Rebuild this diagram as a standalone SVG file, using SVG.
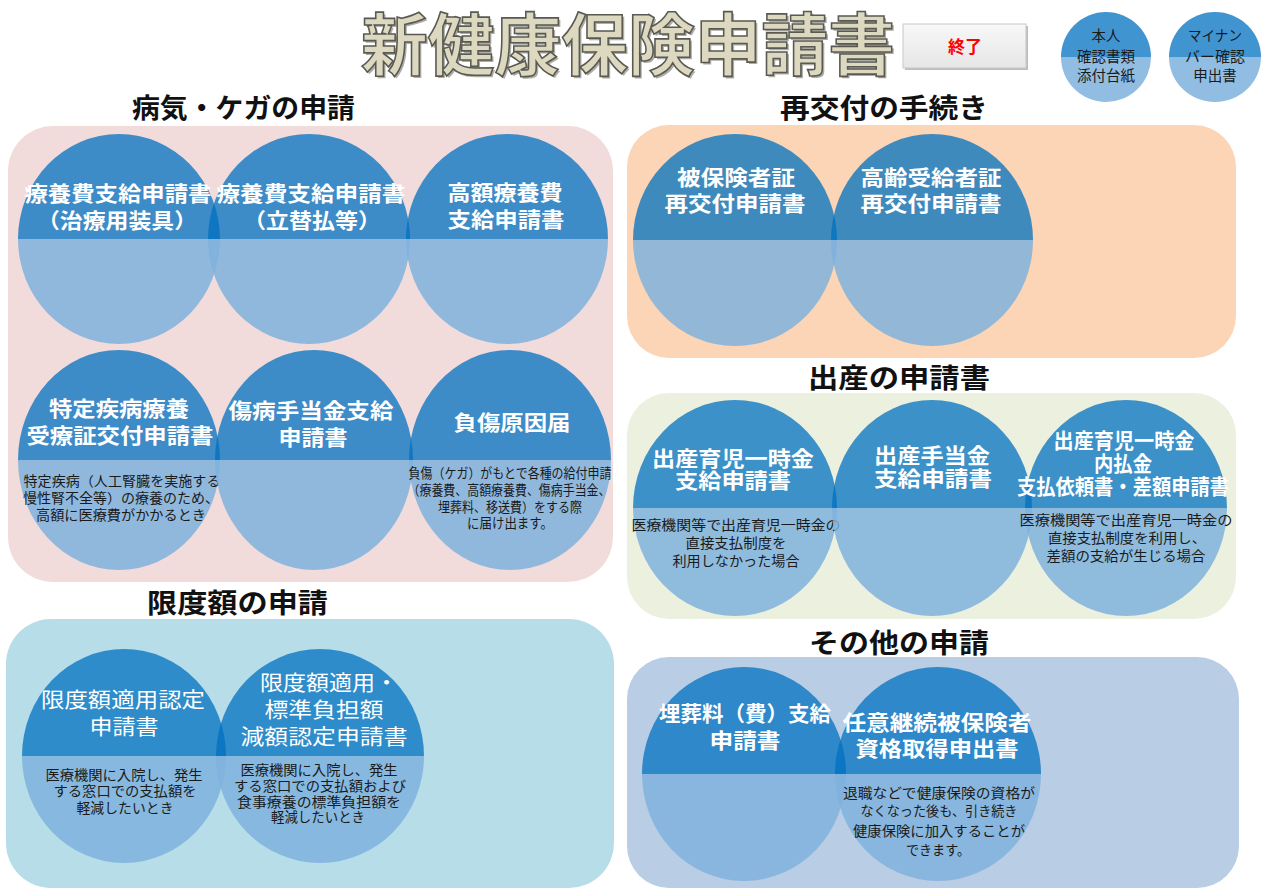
<svg xmlns="http://www.w3.org/2000/svg" width="1267" height="895" viewBox="0 0 1267 895">
<defs>
<linearGradient id="btn" x1="0" y1="0" x2="0" y2="1">
<stop offset="0" stop-color="#f8f8f8"/><stop offset="1" stop-color="#e6e6e6"/>
</linearGradient>
<style>
text{font-family:"Noto Sans CJK JP","Noto Sans CJK SC",sans-serif;text-anchor:middle}
.top{fill:#0070c0;fill-opacity:0.75}
.bot{fill:#7fb2dd;fill-opacity:0.85}
.t{fill:#fff;font-weight:700;font-size:21px}
.tr{fill:#fff;font-weight:400;font-size:21px}
.d{fill:#1a1a1a;font-size:13.5px}
.h{fill:#111;font-weight:700;font-size:27px}
.s{fill:#1a1a1a;font-size:14.5px}
</style>
</defs>
<rect width="1267" height="895" fill="#fff"/>

<g id="title">
<text x="630" y="72" font-size="68" font-weight="700" textLength="534" lengthAdjust="spacingAndGlyphs" fill="#6b6b60" opacity="0.55">新健康保険申請書</text>
<text x="628" y="70" font-size="68" font-weight="700" textLength="534" lengthAdjust="spacingAndGlyphs" fill="#ddd8c0" stroke="#5a5a52" stroke-width="1.6">新健康保険申請書</text>
</g>

<g id="btn-end">
<rect x="905" y="26" width="123" height="44" fill="#bdbdbd"/>
<rect x="903" y="24" width="123" height="44" fill="url(#btn)" stroke="#c8c8c8"/>
<text x="965" y="53" font-size="17" font-weight="700" fill="#ff0000">終了</text>
</g>

<g id="btn-honnin">
<path class="bot" d="M1061 57 A45 45 0 0 0 1151 57 Z"/>
<path class="top" d="M1061 57 A45 45 0 0 1 1151 57 Z"/>
<text class="s" x="1106" y="41">本人</text>
<text class="s" x="1106" y="62">確認書類</text>
<text class="s" x="1106" y="81">添付台紙</text>
</g>
<g id="btn-mynumber">
<path class="bot" d="M1169 57 A46 45 0 0 0 1261 57 Z"/>
<path class="top" d="M1169 57 A46 45 0 0 1 1261 57 Z"/>
<text class="s" x="1215" y="41" textLength="54" lengthAdjust="spacingAndGlyphs">マイナン</text>
<text class="s" x="1215" y="62" textLength="60" lengthAdjust="spacingAndGlyphs">バー確認</text>
<text class="s" x="1215" y="81">申出書</text>
</g>

<!-- panels -->
<g id="panel-byoki">
<rect x="8" y="126" width="605" height="456" rx="45" fill="#f2dcdb"/>
<text class="h" x="243.5" y="118" textLength="223" lengthAdjust="spacingAndGlyphs">病気・ケガの申請</text>
</g>
<g id="panel-gendo">
<rect x="6" y="619" width="608" height="269" rx="45" fill="#b7dde8"/>
<text class="h" x="237.5" y="613" textLength="181" lengthAdjust="spacingAndGlyphs">限度額の申請</text>
</g>
<g id="panel-saikofu">
<rect x="627" y="125" width="609" height="233" rx="42" fill="#fbd5b5"/>
<text class="h" x="884" y="118" textLength="208" lengthAdjust="spacingAndGlyphs">再交付の手続き</text>
</g>
<g id="panel-shussan">
<rect x="627" y="393" width="609" height="226" rx="42" fill="#ebf1de"/>
<text class="h" x="899" y="388" textLength="182" lengthAdjust="spacingAndGlyphs">出産の申請書</text>
</g>
<g id="panel-sonota">
<rect x="627" y="657" width="612" height="231" rx="42" fill="#b9cde5"/>
<text class="h" x="899" y="653" textLength="180" lengthAdjust="spacingAndGlyphs">その他の申請</text>
</g>

<g id="connectors"></g>

<!-- row 1 -->
<g id="n-ryoyohi-sogu">
<path class="bot" d="M18 239 A101 105 0 0 0 220 239 Z"/>
<path class="top" d="M18 239 A101 105 0 0 1 220 239 Z"/>
<text class="t" x="118" y="201" textLength="187" lengthAdjust="spacingAndGlyphs">療養費支給申請書</text>
<text class="t" x="117" y="228" textLength="160" lengthAdjust="spacingAndGlyphs">（治療用装具）</text>
</g>
<g id="n-ryoyohi-tatekae">
<path class="bot" d="M208 239 A101 105 0 0 0 410 239 Z"/>
<path class="top" d="M208 239 A101 105 0 0 1 410 239 Z"/>
<text class="t" x="311" y="201" textLength="189" lengthAdjust="spacingAndGlyphs">療養費支給申請書</text>
<text class="t" x="312" y="228" textLength="138" lengthAdjust="spacingAndGlyphs">（立替払等）</text>
</g>
<g id="n-kogaku">
<path class="bot" d="M406 239 A101 105 0 0 0 608 239 Z"/>
<path class="top" d="M406 239 A101 105 0 0 1 608 239 Z"/>
<text class="t" x="505" y="200" textLength="115" lengthAdjust="spacingAndGlyphs">高額療養費</text>
<text class="t" x="506" y="227" textLength="117" lengthAdjust="spacingAndGlyphs">支給申請書</text>
</g>

<!-- row 2 -->
<g id="n-tokutei">
<path class="bot" d="M18 460 A101 110 0 0 0 220 460 Z"/>
<path class="top" d="M18 460 A101 110 0 0 1 220 460 Z"/>
<text class="t" x="119" y="416" textLength="140" lengthAdjust="spacingAndGlyphs">特定疾病療養</text>
<text class="t" x="120" y="443" textLength="187" lengthAdjust="spacingAndGlyphs">受療証交付申請書</text>
<text class="d" x="122" y="486" font-size="14" textLength="197" lengthAdjust="spacingAndGlyphs">特定疾病（人工腎臓を実施する</text>
<text class="d" x="121" y="503" font-size="14" textLength="196" lengthAdjust="spacingAndGlyphs">慢性腎不全等）の療養のため、</text>
<text class="d" x="121" y="520" font-size="14" textLength="170" lengthAdjust="spacingAndGlyphs">高額に医療費がかかるとき</text>
</g>
<g id="n-shobyo">
<path class="bot" d="M215 460 A99 110 0 0 0 413 460 Z"/>
<path class="top" d="M215 460 A99 110 0 0 1 413 460 Z"/>
<text class="t" x="311" y="418" textLength="165" lengthAdjust="spacingAndGlyphs">傷病手当金支給</text>
<text class="t" x="313" y="445" textLength="69" lengthAdjust="spacingAndGlyphs">申請書</text>
</g>
<g id="n-fusho">
<path class="bot" d="M409 460 A101 110 0 0 0 611 460 Z"/>
<path class="top" d="M409 460 A101 110 0 0 1 611 460 Z"/>
<text class="t" x="512" y="430" textLength="117" lengthAdjust="spacingAndGlyphs">負傷原因届</text>
<text class="d" x="510" y="478" font-size="12.5" textLength="203" lengthAdjust="spacingAndGlyphs">負傷（ケガ）がもとで各種の給付申請</text>
<text class="d" x="509" y="495" font-size="12.5" textLength="203" lengthAdjust="spacingAndGlyphs">（療養費、高額療養費、傷病手当金、</text>
<text class="d" x="510" y="512" font-size="12.5" textLength="144" lengthAdjust="spacingAndGlyphs">埋葬料、移送費）をする際</text>
<text class="d" x="510" y="528" font-size="12.5" textLength="86" lengthAdjust="spacingAndGlyphs">に届け出ます。</text>
</g>

<!-- 限度額 -->
<g id="n-gendo-nintei">
<path class="bot" d="M22 756 A102 107 0 0 0 226 756 Z"/>
<path class="top" d="M22 756 A102 107 0 0 1 226 756 Z"/>
<text class="tr" x="123" y="707" textLength="164" lengthAdjust="spacingAndGlyphs">限度額適用認定</text>
<text class="tr" x="124" y="734" textLength="69" lengthAdjust="spacingAndGlyphs">申請書</text>
<text class="d" x="124" y="780" font-size="14" textLength="157" lengthAdjust="spacingAndGlyphs">医療機関に入院し、発生</text>
<text class="d" x="125" y="796" font-size="14" textLength="143" lengthAdjust="spacingAndGlyphs">する窓口での支払額を</text>
<text class="d" x="125" y="813" font-size="14" textLength="97" lengthAdjust="spacingAndGlyphs">軽減したいとき</text>
</g>
<g id="n-gendo-genmen">
<path class="bot" d="M216 756 A104 107 0 0 0 424 756 Z"/>
<path class="top" d="M216 756 A104 107 0 0 1 424 756 Z"/>
<text class="tr" x="329" y="690" textLength="138" lengthAdjust="spacingAndGlyphs">限度額適用・</text>
<text class="tr" x="324" y="717" textLength="119" lengthAdjust="spacingAndGlyphs">標準負担額</text>
<text class="tr" x="324" y="744" textLength="167" lengthAdjust="spacingAndGlyphs">減額認定申請書</text>
<text class="d" x="319" y="775" font-size="14" textLength="157" lengthAdjust="spacingAndGlyphs">医療機関に入院し、発生</text>
<text class="d" x="320" y="791" font-size="14" textLength="172" lengthAdjust="spacingAndGlyphs">する窓口での支払額および</text>
<text class="d" x="319" y="807" font-size="14" textLength="164" lengthAdjust="spacingAndGlyphs">食事療養の標準負担額を</text>
<text class="d" x="318" y="822" font-size="14" textLength="94" lengthAdjust="spacingAndGlyphs">軽減したいとき</text>
</g>

<!-- 再交付 -->
<g id="n-hihokensha">
<path class="bot" d="M633 240 A102 106 0 0 0 837 240 Z"/>
<path class="top" d="M633 240 A102 106 0 0 1 837 240 Z"/>
<text class="t" x="736" y="185" textLength="118" lengthAdjust="spacingAndGlyphs">被保険者証</text>
<text class="t" x="735" y="211" textLength="141" lengthAdjust="spacingAndGlyphs">再交付申請書</text>
</g>
<g id="n-koreisha">
<path class="bot" d="M831 240 A101 106 0 0 0 1033 240 Z"/>
<path class="top" d="M831 240 A101 106 0 0 1 1033 240 Z"/>
<text class="t" x="931" y="185" textLength="141" lengthAdjust="spacingAndGlyphs">高齢受給者証</text>
<text class="t" x="931" y="211" textLength="141" lengthAdjust="spacingAndGlyphs">再交付申請書</text>
</g>

<!-- 出産 -->
<g id="n-ikuji">
<path class="bot" d="M633 508 A102 108 0 0 0 837 508 Z"/>
<path class="top" d="M633 508 A102 108 0 0 1 837 508 Z"/>
<text class="t" x="733" y="466" textLength="162" lengthAdjust="spacingAndGlyphs">出産育児一時金</text>
<text class="t" x="733" y="488" textLength="116" lengthAdjust="spacingAndGlyphs">支給申請書</text>
<text class="d" x="736" y="530" font-size="14" textLength="209" lengthAdjust="spacingAndGlyphs">医療機関等で出産育児一時金の</text>
<text class="d" x="736" y="548" font-size="14" textLength="101" lengthAdjust="spacingAndGlyphs">直接支払制度を</text>
<text class="d" x="736" y="566" font-size="14" textLength="127" lengthAdjust="spacingAndGlyphs">利用しなかった場合</text>
</g>
<g id="n-teate">
<path class="bot" d="M832 508 A100 108 0 0 0 1032 508 Z"/>
<path class="top" d="M832 508 A100 108 0 0 1 1032 508 Z"/>
<text class="t" x="932" y="463" textLength="116" lengthAdjust="spacingAndGlyphs">出産手当金</text>
<text class="t" x="933" y="486" textLength="118" lengthAdjust="spacingAndGlyphs">支給申請書</text>
</g>
<g id="n-uchibarai">
<path class="bot" d="M1025 508 A101 108 0 0 0 1227 508 Z"/>
<path class="top" d="M1025 508 A101 108 0 0 1 1227 508 Z"/>
<text class="t" x="1124" y="448" font-size="19" textLength="141" lengthAdjust="spacingAndGlyphs">出産育児一時金</text>
<text class="t" x="1123" y="471" font-size="19" textLength="58" lengthAdjust="spacingAndGlyphs">内払金</text>
<text class="t" x="1123" y="494" font-size="19" textLength="212" lengthAdjust="spacingAndGlyphs">支払依頼書・差額申請書</text>
<text class="d" x="1126" y="525" font-size="14" textLength="213" lengthAdjust="spacingAndGlyphs">医療機関等で出産育児一時金の</text>
<text class="d" x="1127" y="543" font-size="14" textLength="158" lengthAdjust="spacingAndGlyphs">直接支払制度を利用し、</text>
<text class="d" x="1126" y="561" font-size="14" textLength="159" lengthAdjust="spacingAndGlyphs">差額の支給が生じる場合</text>
</g>

<!-- その他 -->
<g id="n-maiso">
<path class="bot" d="M642 774 A102 107 0 0 0 846 774 Z"/>
<path class="top" d="M642 774 A102 107 0 0 1 846 774 Z"/>
<text class="t" x="745" y="721" textLength="172" lengthAdjust="spacingAndGlyphs">埋葬料（費）支給</text>
<text class="t" x="745" y="748" textLength="71" lengthAdjust="spacingAndGlyphs">申請書</text>
</g>
<g id="n-nini">
<path class="bot" d="M835 774 A103 107 0 0 0 1041 774 Z"/>
<path class="top" d="M835 774 A103 107 0 0 1 1041 774 Z"/>
<text class="t" x="937" y="730" textLength="189" lengthAdjust="spacingAndGlyphs">任意継続被保険者</text>
<text class="t" x="937" y="756" textLength="163" lengthAdjust="spacingAndGlyphs">資格取得申出書</text>
<text class="d" x="939" y="798" font-size="14.5" textLength="192" lengthAdjust="spacingAndGlyphs">退職などで健康保険の資格が</text>
<text class="d" x="939" y="816" font-size="14.5" textLength="157" lengthAdjust="spacingAndGlyphs">なくなった後も、引き続き</text>
<text class="d" x="939" y="836" font-size="14.5" textLength="172" lengthAdjust="spacingAndGlyphs">健康保険に加入することが</text>
<text class="d" x="938" y="855" font-size="14.5" textLength="64" lengthAdjust="spacingAndGlyphs">できます。</text>
</g>
</svg>
